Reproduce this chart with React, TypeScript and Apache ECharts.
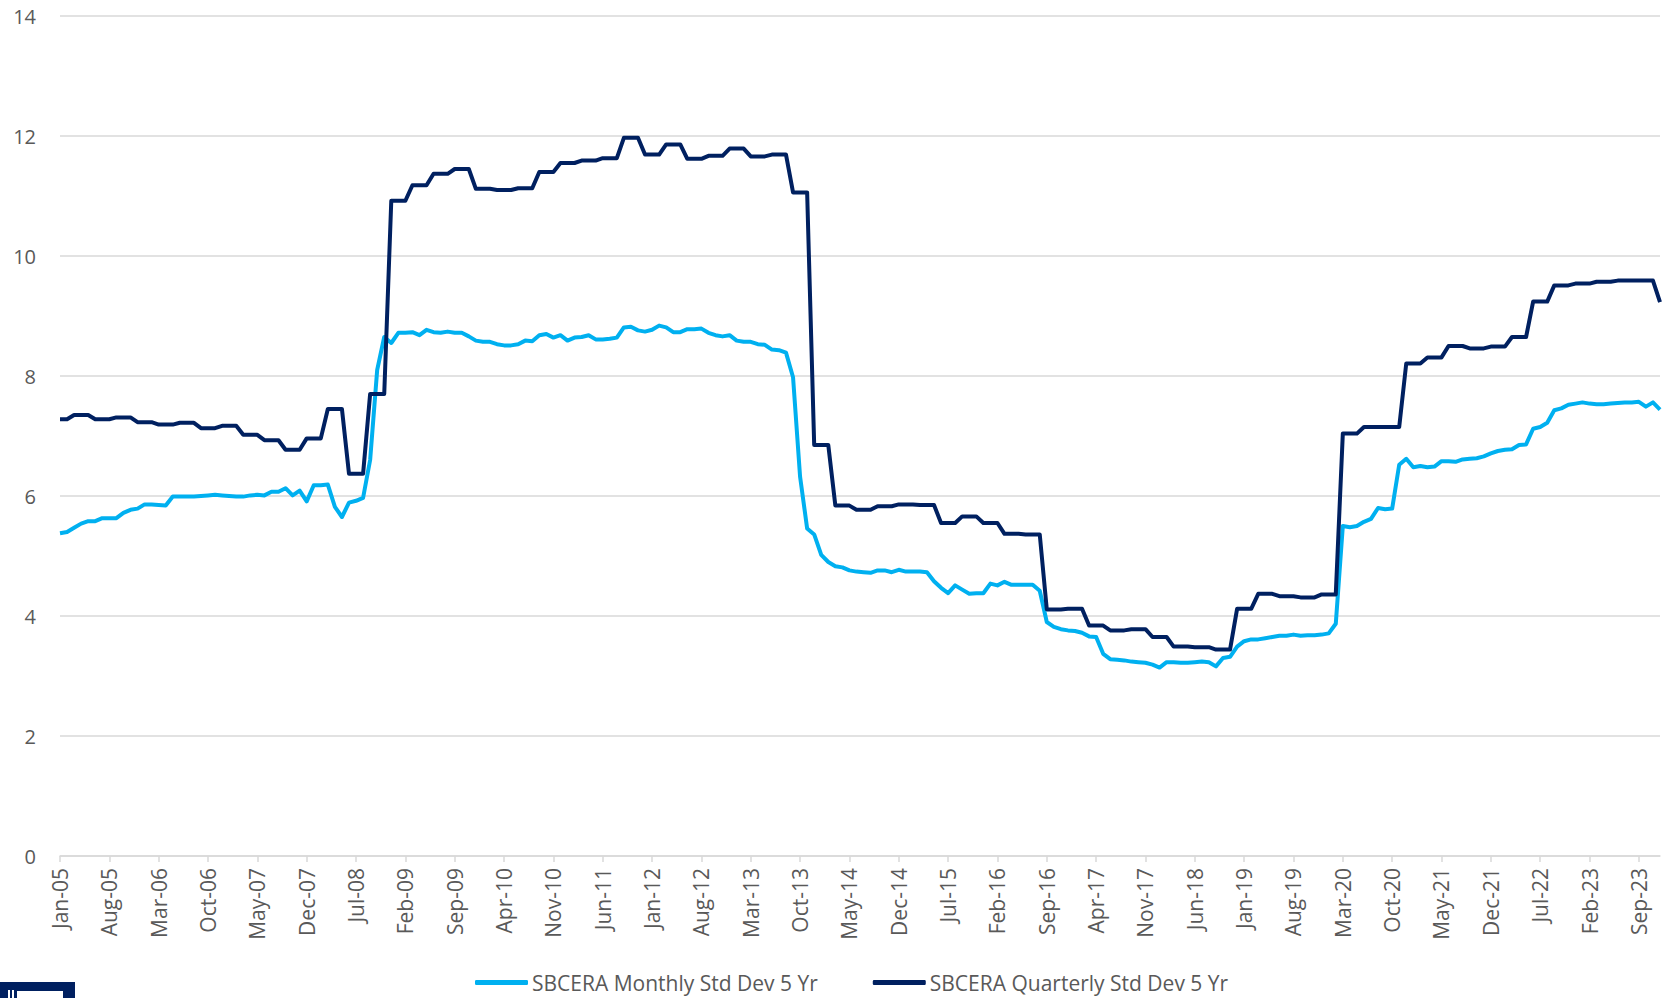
import React, { useEffect, useRef } from "react";
import * as echarts from "echarts";

const MONTH_NAMES = ["Jan", "Feb", "Mar", "Apr", "May", "Jun", "Jul", "Aug", "Sep", "Oct", "Nov", "Dec"];
const YEARS = [5, 6, 7, 8, 9, 10, 11, 12, 13, 14, 15, 16, 17, 18, 19, 20, 21, 22, 23];
const categories: string[] = [];
YEARS.forEach((y) => MONTH_NAMES.forEach((m) => categories.push(`${m}-${String(y).padStart(2, "0")}`)));

const Y_TICKS = [0, 2, 4, 6, 8, 10, 12, 14];

// SBCERA Monthly Std Dev 5 Yr (Jan-05 .. Dec-23)
const monthly2005_2009 = [
  5.38, 5.40, 5.47, 5.54, 5.58, 5.58, 5.63, 5.63, 5.63, 5.72, 5.77, 5.79,
  5.86, 5.86, 5.85, 5.84, 5.99, 5.99, 5.99, 5.99, 6.00, 6.01, 6.02, 6.01,
  6.00, 5.99, 5.99, 6.01, 6.02, 6.01, 6.07, 6.07, 6.13, 6.01, 6.09, 5.91,
  6.18, 6.18, 6.19, 5.82, 5.65, 5.89, 5.92, 5.97, 6.60, 8.10, 8.65, 8.55,
  8.72, 8.72, 8.73, 8.68, 8.77, 8.73, 8.72, 8.74, 8.72, 8.72, 8.66, 8.59,
];
const monthly2010_2014 = [
  8.57, 8.57, 8.53, 8.51, 8.51, 8.53, 8.59, 8.58, 8.68, 8.70, 8.64, 8.68,
  8.59, 8.64, 8.65, 8.68, 8.61, 8.61, 8.62, 8.64, 8.81, 8.82, 8.76, 8.74,
  8.77, 8.84, 8.81, 8.73, 8.73, 8.78, 8.78, 8.79, 8.72, 8.68, 8.66, 8.68,
  8.59, 8.57, 8.57, 8.53, 8.52, 8.44, 8.43, 8.39, 7.98, 6.32, 5.46, 5.36,
  5.02, 4.90, 4.83, 4.81, 4.76, 4.74, 4.73, 4.72, 4.76, 4.76, 4.73, 4.77,
];
const monthly2015_2019 = [
  4.74, 4.74, 4.74, 4.73, 4.58, 4.47, 4.38, 4.51, 4.44, 4.37, 4.38, 4.38,
  4.54, 4.51, 4.57, 4.52, 4.52, 4.52, 4.52, 4.42, 3.90, 3.82, 3.78, 3.76,
  3.75, 3.72, 3.66, 3.65, 3.37, 3.28, 3.27, 3.26, 3.24, 3.23, 3.22, 3.19,
  3.14, 3.23, 3.23, 3.22, 3.22, 3.23, 3.24, 3.23, 3.16, 3.30, 3.32, 3.49,
  3.58, 3.61, 3.61, 3.63, 3.65, 3.67, 3.67, 3.69, 3.67, 3.68, 3.68, 3.69,
];
const monthly2020_2023 = [
  3.71, 3.87, 5.50, 5.48, 5.50, 5.57, 5.62, 5.80, 5.78, 5.79, 6.52, 6.62,
  6.48, 6.50, 6.48, 6.49, 6.58, 6.58, 6.57, 6.61, 6.62, 6.63, 6.66, 6.71,
  6.75, 6.77, 6.78, 6.85, 6.86, 7.12, 7.15, 7.22, 7.43, 7.46, 7.52, 7.54,
  7.56, 7.54, 7.53, 7.53, 7.54, 7.55, 7.56, 7.56, 7.57, 7.49, 7.56, 7.44,
];

// SBCERA Quarterly Std Dev 5 Yr (Jan-05 .. Dec-23)
const quarterly2005_2009 = [
  7.28, 7.28, 7.35, 7.35, 7.35, 7.28, 7.28, 7.28, 7.31, 7.31, 7.31, 7.23,
  7.23, 7.23, 7.19, 7.19, 7.19, 7.22, 7.22, 7.22, 7.13, 7.13, 7.13, 7.17,
  7.17, 7.17, 7.02, 7.02, 7.02, 6.93, 6.93, 6.93, 6.77, 6.77, 6.77, 6.96,
  6.96, 6.96, 7.45, 7.45, 7.45, 6.37, 6.37, 6.37, 7.70, 7.70, 7.70, 10.92,
  10.92, 10.92, 11.18, 11.18, 11.18, 11.37, 11.37, 11.37, 11.45, 11.45, 11.45, 11.12,
];
const quarterly2010_2014 = [
  11.12, 11.12, 11.10, 11.10, 11.10, 11.13, 11.13, 11.13, 11.40, 11.40, 11.40, 11.55,
  11.55, 11.55, 11.59, 11.59, 11.59, 11.63, 11.63, 11.63, 11.97, 11.97, 11.97, 11.69,
  11.69, 11.69, 11.86, 11.86, 11.86, 11.62, 11.62, 11.62, 11.67, 11.67, 11.67, 11.79,
  11.79, 11.79, 11.66, 11.66, 11.66, 11.69, 11.69, 11.69, 11.06, 11.06, 11.06, 6.85,
  6.85, 6.85, 5.84, 5.84, 5.84, 5.77, 5.77, 5.77, 5.83, 5.83, 5.83, 5.86,
];
const quarterly2015_2019 = [
  5.86, 5.86, 5.85, 5.85, 5.85, 5.55, 5.55, 5.55, 5.66, 5.66, 5.66, 5.55,
  5.55, 5.55, 5.37, 5.37, 5.37, 5.36, 5.36, 5.36, 4.11, 4.11, 4.11, 4.12,
  4.12, 4.12, 3.84, 3.84, 3.84, 3.76, 3.76, 3.76, 3.78, 3.78, 3.78, 3.65,
  3.65, 3.65, 3.49, 3.49, 3.49, 3.48, 3.48, 3.48, 3.44, 3.44, 3.44, 4.12,
  4.12, 4.12, 4.37, 4.37, 4.37, 4.33, 4.33, 4.33, 4.31, 4.31, 4.31, 4.36,
];
const quarterly2020_2023 = [
  4.36, 4.36, 7.04, 7.04, 7.04, 7.15, 7.15, 7.15, 7.15, 7.15, 7.15, 8.21,
  8.21, 8.21, 8.31, 8.31, 8.31, 8.50, 8.50, 8.50, 8.46, 8.46, 8.46, 8.49,
  8.49, 8.49, 8.65, 8.65, 8.65, 9.24, 9.24, 9.24, 9.51, 9.51, 9.51, 9.54,
  9.54, 9.54, 9.57, 9.57, 9.57, 9.59, 9.59, 9.59, 9.59, 9.59, 9.59, 9.23,
];

const monthlySeries = [...monthly2005_2009, ...monthly2010_2014, ...monthly2015_2019, ...monthly2020_2023];
const quarterlySeries = [...quarterly2005_2009, ...quarterly2010_2014, ...quarterly2015_2019, ...quarterly2020_2023];

const SERIES_NAMES = ["SBCERA Monthly Std Dev 5 Yr", "SBCERA Quarterly Std Dev 5 Yr"];
const COLORS = ["#00B0F0", "#002060"];

const FONT = "'Open Sans', 'Noto Sans', sans-serif";

export default function App() {
  const ref = useRef<HTMLDivElement>(null);
  useEffect(() => {
    if (!ref.current) return;
    const chart = echarts.init(ref.current, null, { renderer: "svg" });
    chart.setOption({
      animation: false,
      backgroundColor: "#ffffff",
      textStyle: { fontFamily: FONT },
      grid: { left: 60, right: 5, top: 16, bottom: 142, containLabel: false },
      xAxis: {
        type: "category",
        data: categories,
        boundaryGap: false,
        axisLine: { lineStyle: { color: "#d9d9d9", width: 1.5 } },
        axisTick: { show: true, interval: 6, length: 6, lineStyle: { color: "#d9d9d9", width: 1.5 } },
        axisLabel: {
          interval: 6,
          rotate: 90,
          color: "#595959",
          fontSize: 21,
          fontFamily: FONT,
          margin: 12,
        },
        splitLine: { show: false },
      },
      yAxis: {
        type: "value",
        min: Y_TICKS[0],
        max: Y_TICKS[Y_TICKS.length - 1],
        interval: 2,
        axisLine: { show: false },
        axisTick: { show: false },
        axisLabel: { color: "#595959", fontSize: 20, fontFamily: FONT, margin: 24 },
        splitLine: { lineStyle: { color: "#d9d9d9", width: 1.5 } },
      },
      legend: {
        data: SERIES_NAMES,
        left: 470,
        top: 967,
        icon: "roundRect",
        itemWidth: 53,
        itemHeight: 5,
        itemGap: 55,
        textStyle: { color: "#595959", fontSize: 21, fontFamily: FONT, padding: [0, 0, 0, -1] },
      },
      series: [
        {
          name: SERIES_NAMES[0],
          type: "line",
          data: monthlySeries,
          symbol: "none",
          color: COLORS[0],
          lineStyle: { color: COLORS[0], width: 4, join: "round" },
        },
        {
          name: SERIES_NAMES[1],
          type: "line",
          data: quarterlySeries,
          symbol: "none",
          color: COLORS[1],
          lineStyle: { color: COLORS[1], width: 4, join: "round" },
        },
      ],
      graphic: [
        { type: "rect", shape: { x: 0, y: 982, width: 75, height: 16 }, style: { fill: "#002060" } },
        { type: "rect", shape: { x: 8, y: 990, width: 2, height: 8 }, style: { fill: "#ffffff" } },
        { type: "rect", shape: { x: 12, y: 990, width: 2, height: 8 }, style: { fill: "#ffffff" } },
        { type: "rect", shape: { x: 17, y: 991, width: 46, height: 7 }, style: { fill: "#ffffff" } },
      ],
    });
    return () => chart.dispose();
  }, []);
  return (
    <div
      ref={ref}
      style={{ position: "fixed", left: 0, top: 0, width: 1665, height: 998, background: "#fff" }}
    />
  );
}
